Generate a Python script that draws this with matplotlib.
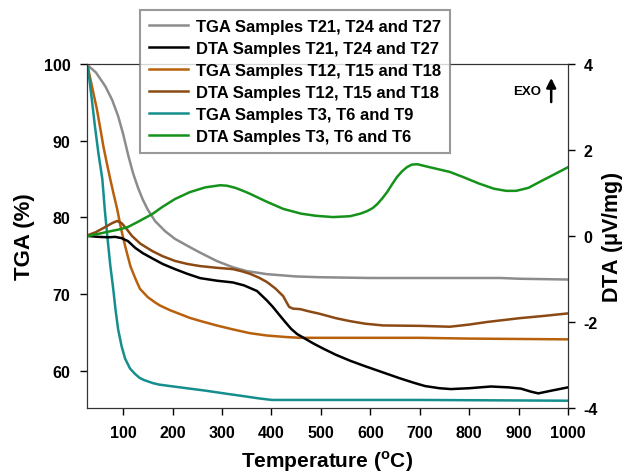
import matplotlib.pyplot as plt

plt.rcParams['font.family'] = ['Liberation Sans', 'DejaVu Sans']
plt.rcParams['font.weight'] = 'bold'
plt.rcParams['axes.unicode_minus'] = False

# TGA curves (left axis, %)
t_tga_t21 = [29, 45, 64, 78, 90, 100, 110, 120, 130, 140, 150, 165, 185, 205, 230, 256, 290, 322,
             350, 391, 450, 498, 600, 701, 863, 903, 1000]
tga_t21 = [99.8, 98.9, 97.1, 95.3, 93.2, 90.9, 88.2, 85.8, 83.9, 82.3, 81.0, 79.5, 78.2, 77.2, 76.3,
           75.4, 74.3, 73.5, 73.0, 72.6, 72.3, 72.2, 72.1, 72.1, 72.1, 72.0, 71.9]

t_tga_t12 = [29, 38, 47, 55, 60, 67, 74, 81, 88, 96, 104, 115, 125, 134, 150, 165, 175, 195, 215,
             235, 256, 290, 322, 357, 391, 430, 458, 600, 701, 800, 1000]
tga_t12 = [99.5, 96.8, 94.1, 91.2, 89.3, 87.1, 85.0, 83.0, 81.1, 78.5, 76.3, 73.6, 72.0, 70.7, 69.6,
           68.9, 68.5, 67.9, 67.4, 66.9, 66.5, 65.9, 65.4, 64.9, 64.6, 64.4, 64.3, 64.3, 64.3, 64.2, 64.1]

t_tga_t3 = [29, 36, 43, 50, 58, 63, 68, 74, 80, 85, 90, 97, 104, 114, 124, 133, 142, 160, 173, 220,
            268, 310, 343, 375, 401, 700, 1000]
tga_t3 = [99.5, 95.8, 91.9, 88.4, 85.0, 81.0, 77.6, 73.8, 70.7, 67.8, 65.4, 63.2, 61.6, 60.3, 59.6,
          59.1, 58.8, 58.4, 58.2, 57.8, 57.4, 57.0, 56.7, 56.4, 56.2, 56.2, 56.1]

# DTA curves (right axis, uV/mg)
t_dta_t21 = [29, 50, 70, 84, 97, 110, 125, 140, 159, 180, 205, 230, 256, 290, 322, 345, 371, 391,
             403, 415, 428, 440, 452, 464, 485, 505, 530, 559, 590, 620, 660, 690, 711, 740, 763,
             800, 844, 880, 905, 925, 940, 965, 1000]
dta_t21 = [0.0, -0.02, -0.03, -0.02, -0.05, -0.12, -0.28, -0.40, -0.52, -0.65, -0.77, -0.88, -0.98,
           -1.04, -1.08, -1.15, -1.28, -1.50, -1.65, -1.82, -2.0, -2.16, -2.28, -2.36, -2.50, -2.62,
           -2.76, -2.90, -3.03, -3.15, -3.31, -3.42, -3.49, -3.54, -3.56, -3.54, -3.50, -3.52, -3.55,
           -3.62, -3.66, -3.60, -3.52]

t_dta_t12 = [29, 45, 64, 78, 88, 97, 108, 118, 135, 159, 180, 205, 230, 256, 290, 322, 340, 357,
             375, 391, 408, 424, 431, 436, 444, 458, 475, 498, 530, 559, 590, 626, 701, 761, 800,
             836, 903, 950, 1000]
dta_t12 = [0.02, 0.09, 0.21, 0.30, 0.35, 0.30, 0.15, 0.0, -0.18, -0.35, -0.47, -0.58, -0.65, -0.70,
           -0.74, -0.77, -0.82, -0.88, -0.97, -1.07, -1.22, -1.40, -1.55, -1.65, -1.69, -1.70, -1.75,
           -1.81, -1.91, -1.98, -2.04, -2.08, -2.09, -2.11, -2.06, -2.0, -1.91, -1.86, -1.80]

t_dta_t3 = [29, 50, 78, 95, 110, 130, 159, 180, 205, 235, 266, 296, 310, 327, 345, 357, 390, 424,
            460, 490, 525, 559, 580, 594, 605, 614, 624, 634, 644, 654, 664, 674, 684, 695, 720,
            761, 788, 820, 850, 875, 895, 920, 943, 970, 1000]
dta_t3 = [0.0, 0.05, 0.12, 0.16, 0.21, 0.33, 0.51, 0.68, 0.86, 1.02, 1.13, 1.18, 1.17, 1.12, 1.04,
          0.98, 0.80, 0.63, 0.52, 0.47, 0.44, 0.46, 0.52, 0.58, 0.65, 0.74, 0.87, 1.02, 1.20, 1.37,
          1.50, 1.60, 1.66, 1.67, 1.60, 1.49, 1.37, 1.22, 1.10, 1.05, 1.05, 1.12, 1.26, 1.42, 1.60]

fig = plt.figure(figsize=(6.3, 4.77), dpi=100)
ax = fig.add_axes([87/630, 1-409/477, 481/630, 344/477])
ax2 = ax.twinx()

lw = 1.8
l1, = ax.plot(t_tga_t21, tga_t21, color='#8c8c8c', lw=lw)
l3, = ax.plot(t_tga_t12, tga_t12, color='#b8600c', lw=lw)
l5, = ax.plot(t_tga_t3, tga_t3, color='#158e8e', lw=lw)
l2, = ax2.plot(t_dta_t21, dta_t21, color='black', lw=lw)
l4, = ax2.plot(t_dta_t12, dta_t12, color='#8b4a14', lw=lw)
l6, = ax2.plot(t_dta_t3, dta_t3, color='#15921a', lw=lw)

ax.set_xlim(27, 1000)
ax.set_ylim(55.15, 100)
ax2.set_ylim(-4, 4)
ax.set_xticks(range(100, 1001, 100))
ax.set_yticks(range(60, 101, 10))
ax2.set_yticks([-4, -2, 0, 2, 4])

for a in (ax, ax2):
    a.tick_params(direction='out', length=5, width=1, pad=7, labelsize=11.5)
    for s in a.spines.values():
        s.set_color('#333333')
ax2.tick_params(pad=6)

ax.set_xlabel('Temperature ($^{\\mathregular{o}}$C)', fontsize=15, fontweight='bold', labelpad=6)
ax.set_ylabel('TGA (%)', fontsize=16, fontweight='bold', labelpad=6)
ax2.set_ylabel('DTA ($\\mathregular{\\mu}$V/mg)', fontsize=15.5, fontweight='bold', labelpad=2)

ax2.text(917, 3.37, 'EXO', fontsize=9.5, fontweight='bold', ha='center', va='center')
ax2.annotate('', xy=(966, 3.74), xytext=(966, 3.05),
             arrowprops=dict(arrowstyle='-|>', color='black', lw=1.8, mutation_scale=14))

labels = ['TGA Samples T21, T24 and T27', 'DTA Samples T21, T24 and T27',
          'TGA Samples T12, T15 and T18', 'DTA Samples T12, T15 and T18',
          'TGA Samples T3, T6 and T9', 'DTA Samples T3, T6 and T6']
leg = fig.legend([l1, l2, l3, l4, l5, l6], labels, loc='upper left',
                 bbox_to_anchor=(140/630, 1-11/477), fontsize=12, frameon=True,
                 fancybox=False, edgecolor='#808080', handlelength=2.3,
                 handletextpad=0.5, labelspacing=0.42, borderpad=0.55, borderaxespad=0)
leg.get_frame().set_linewidth(1.5)
for t in leg.get_texts():
    t.set_fontweight('bold')

fig.savefig('out.png', dpi=100)
